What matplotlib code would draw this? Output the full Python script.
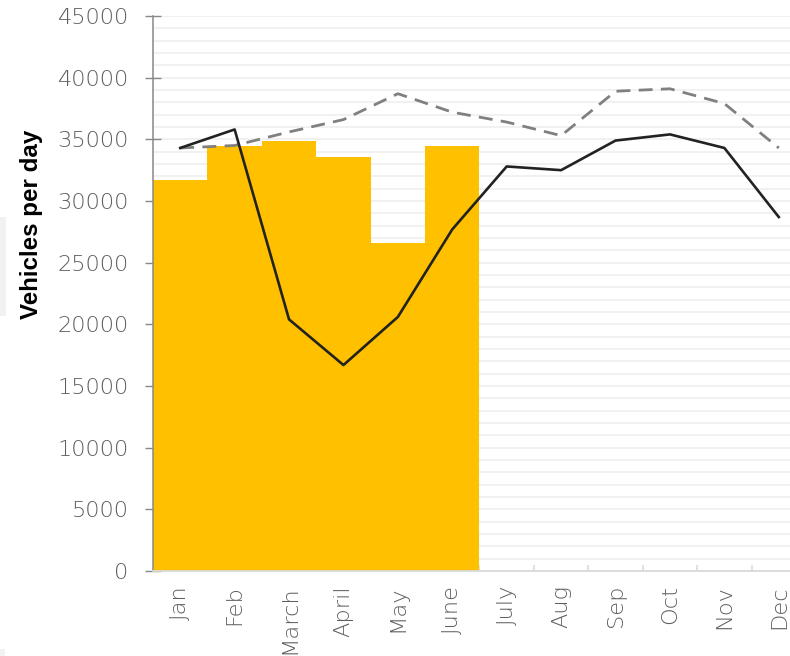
import matplotlib
matplotlib.use("Agg")
import matplotlib.pyplot as plt
from matplotlib.patches import Rectangle
from matplotlib.ticker import MultipleLocator, FixedLocator

months = ["Jan", "Feb", "March", "April", "May", "June",
          "July", "Aug", "Sep", "Oct", "Nov", "Dec"]
bars_2020 = [31700, 34500, 34900, 33600, 26600, 34500]
line_2019 = [34300, 35800, 20400, 16700, 20600, 27700,
             32800, 32500, 34900, 35400, 34300, 28700]
dashed_avg = [34300, 34500, 35600, 36600, 38700, 37200,
              36400, 35300, 38900, 39100, 37900, 34300]
y_ticks = list(range(0, 45001, 5000))

fig = plt.figure(figsize=(7.9, 6.56), dpi=100)
fig.patch.set_facecolor("white")

# decorative side tabs
fig.patches.append(Rectangle((0, 1 - 316 / 656), 6 / 790, 99 / 656,
                             transform=fig.transFigure, facecolor="#f2f2f2",
                             edgecolor="none", zorder=0))
fig.patches.append(Rectangle((0, 0), 5 / 790, 7 / 656,
                             transform=fig.transFigure, facecolor="#f2f2f2",
                             edgecolor="none", zorder=0))

ax = fig.add_axes([153 / 790, 1 - 571 / 656, 653 / 790, 555 / 656])

x = list(range(len(months)))
ax.bar(x[:len(bars_2020)], bars_2020, width=1.0, color="#FFC000",
       edgecolor="none", zorder=2)
ax.plot(x, dashed_avg, color="#808080", lw=2.0, dashes=(5, 3), zorder=3)
ax.plot(x, line_2019, color="#222222", lw=1.9, zorder=4)

ax.set_xlim(-0.5, 11.5)
ax.set_ylim(0, 45000)

ax.yaxis.set_major_locator(FixedLocator(y_ticks))
ax.yaxis.set_minor_locator(MultipleLocator(1000))
ax.grid(which="both", axis="y", color="#efefef", lw=1.2, zorder=0)
ax.set_axisbelow(True)

ax.set_xticks(x)
ax.set_xticklabels(months, rotation=90)
ax.xaxis.set_minor_locator(FixedLocator([i + 0.5 for i in range(11)]))
ax.tick_params(axis="x", which="major", length=0, pad=10,
               labelsize=16.2, labelcolor="#5e5e5e")
ax.tick_params(axis="x", which="minor", direction="in", length=4.5,
               width=1.1, color="#d9d9d9")
ax.tick_params(axis="y", which="major", direction="inout", length=11,
               width=1.0, color="#888888", pad=12,
               labelsize=16.2, labelcolor="#5e5e5e")
ax.tick_params(axis="y", which="minor", length=0)

for lbl in ax.get_xticklabels() + ax.get_yticklabels():
    lbl.set_fontfamily("DejaVu Sans")
    lbl.set_fontweight("light")

for s in ("top", "right"):
    ax.spines[s].set_visible(False)
ax.spines["left"].set_color("#888888")
ax.spines["left"].set_linewidth(1.1)
ax.spines["bottom"].set_color("#d9d9d9")
ax.spines["bottom"].set_linewidth(1.3)

ax.set_ylabel("Vehicles per day", fontsize=17.4, fontweight="bold",
              family="Liberation Sans", color="black")
ax.yaxis.set_label_coords(-0.169, 0.625)

fig.savefig("out.png", dpi=100)
